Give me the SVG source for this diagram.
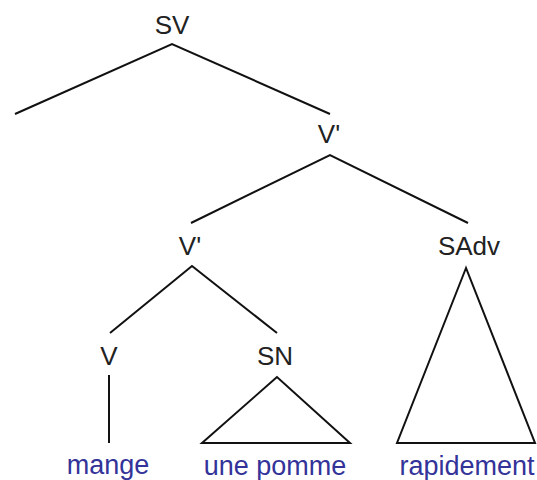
<svg xmlns="http://www.w3.org/2000/svg" width="537" height="480" viewBox="0 0 537 480">
<style>
.lbl{font-family:"Liberation Sans",Arial,sans-serif;font-size:26px;fill:#222;text-anchor:middle}
.word{font-family:"Liberation Sans",Arial,sans-serif;font-size:27px;fill:#333399;text-anchor:middle}
.ln{stroke:#111;stroke-width:2;fill:none;stroke-linejoin:miter}
</style>
<rect width="537" height="480" fill="#fff"/>
<g id="connectors">
<polyline class="ln" points="15,114 172,44 330,114"/>
<polyline class="ln" points="191,223 330,155 468,223"/>
<polyline class="ln" points="110,333 192,266 277,333"/>
<line class="ln" x1="109" y1="375" x2="109" y2="443"/>
<polygon class="ln" points="277,377 202,443 350,443"/>
<polygon class="ln" points="466,268 397,443 535,443"/>
</g>
<g id="SV"><text class="lbl" x="172" y="34">SV</text></g>
<g id="Vbar1"><text class="lbl" x="329" y="143">V'</text></g>
<g id="Vbar2"><text class="lbl" x="190" y="255">V'</text></g>
<g id="SAdv"><text class="lbl" x="469" y="255">SAdv</text></g>
<g id="V"><text class="lbl" x="109" y="365">V</text></g>
<g id="SN"><text class="lbl" x="275" y="365">SN</text></g>
<g id="mange"><text class="word" x="108" y="474">mange</text></g>
<g id="une_pomme"><text class="word" x="275" y="475">une pomme</text></g>
<g id="rapidement"><text class="word" x="467" y="475">rapidement</text></g>
</svg>
